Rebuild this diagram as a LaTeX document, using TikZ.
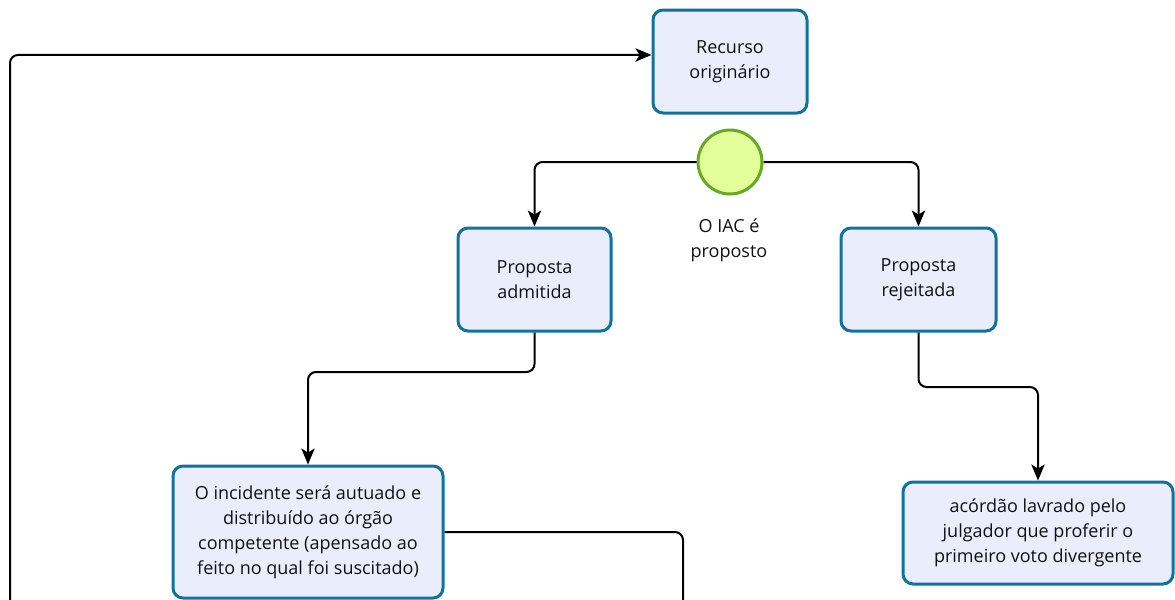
\documentclass[tikz,border=0pt]{standalone}
\usepackage{fontspec}
\setmainfont{Open Sans}
\usetikzlibrary{arrows.meta}
\definecolor{boxline}{HTML}{10739E}
\definecolor{boxfill}{HTML}{EAEEFC}
\definecolor{dotline}{HTML}{66AA22}
\definecolor{dotfill}{HTML}{E3FF99}
\definecolor{txt}{HTML}{111111}
\tikzset{
	etapa/.style={draw=boxline, fill=boxfill, line width=2.25pt, rounded corners=7.5pt, align=center, text=txt, font=\fontsize{13.5}{18.75}\selectfont, inner sep=0pt},
	link/.style={draw=black, line width=1.5pt, rounded corners=6pt},
	seta/.style={link, -{Stealth[length=12pt, width=10pt, inset=3pt]}}
}

\begin{document}
\begin{tikzpicture}[x=0.75pt, y=-0.75pt]
			%%%%% START %%%%%
			\useasboundingbox (0, 0) rectangle (1175, 600);
			
			\node[etapa, minimum width=115.5pt, minimum height=77.25pt] (recurso) at (730, 61.5) {Recurso\\origin\'ario};
			
			\node[circle, draw=dotline, fill=dotfill, line width=2.25pt, minimum size=48pt, inner sep=0pt] (iac) at (730, 162) {};
			\node[align=center, text=txt, font=\fontsize{13.5}{18.75}\selectfont] (iaclabel) at (729, 240) {O IAC \'e\\proposto};
			
			\node[etapa, minimum width=114.75pt, minimum height=77.25pt] (admit) at (534.5, 279.5) {Proposta\\admitida};
			\node[etapa, minimum width=116.25pt, minimum height=77.25pt] (rejeit) at (918.5, 279.5) {Proposta\\rejeitada};
			
			\node[etapa, minimum width=202.5pt, minimum height=99pt] (incid) at (308, 532) {O incidente ser\'a autuado e\\distribu\'ido ao \'org\~ao\\competente (apensado ao\\feito no qual foi suscitado)};
			\node[etapa, minimum width=202.5pt, minimum height=76.5pt] (acord) at (1038, 533) {ac\'ord\~ao lavrado pelo\\julgador que proferir o\\primeiro voto divergente};
			
			\coordinate (a1) at (534.5, 372);
			\coordinate (r1) at (918.5, 387);
			\coordinate (d1) at (683, 640);
			\coordinate (b1) at (10, 640);
			
			\draw[seta] (iac.west) -| (admit.north);
			\draw[seta] (iac.east) -| (rejeit.north);
			\draw[seta] (admit.south) -- (a1) -| (incid.north);
			\draw[seta] (rejeit.south) -- (r1) -| (acord.north);
			\draw[link] (incid.east) -| (d1);
			\draw[seta] (b1) |- ([yshift=4.9pt]recurso.west);
			
			%%%%% END %%%%%
		\end{tikzpicture}
\end{document}
